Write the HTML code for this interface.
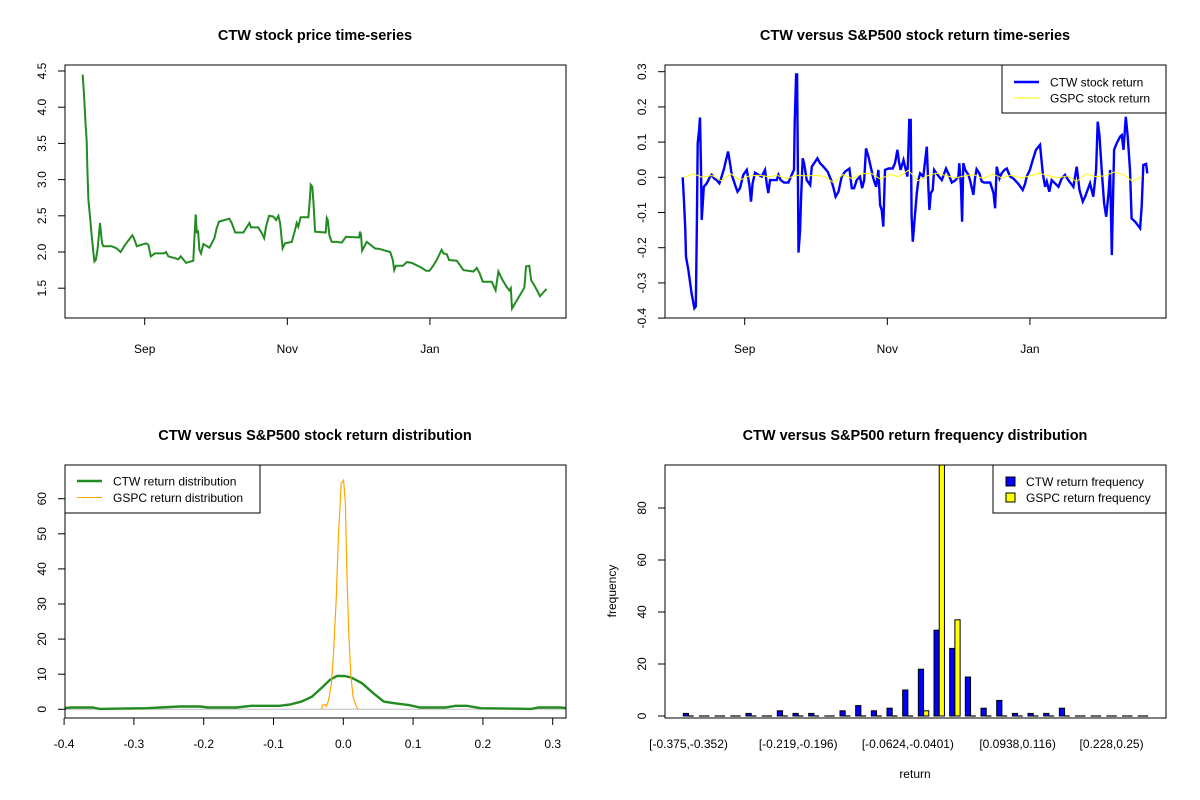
<!DOCTYPE html>
<html><head><meta charset="utf-8"><style>
html,body{margin:0;padding:0;background:#fff;}
svg{display:block;font-family:"Liberation Sans",Arial,sans-serif;}
</style></head><body>
<svg id="chart" width="1200" height="800" viewBox="0 0 1200 800">
<rect width="1200" height="800" fill="#fff"/>
</svg>
<script>
// ---------- Panel 1: price ----------
const priceDays=[-26.5,-25.9,-25.4,-24.8,-24.5,-24.1,-23.4,-22.7,-21.9,-21.5,-20.9,-20.2,-19.5,-19.1,-18.7,-18.2,-17.7,-14.1,-12.0,-10.3,-8.4,-5.3,-4.6,-3.4,0.6,1.6,2.6,4.4,8.3,9.1,10.1,14.4,15.4,17.7,20.8,21.3,21.8,22.3,22.8,23.4,24.1,25.1,27.7,29.8,30.8,31.8,36.2,37.2,38.7,42.2,44.8,45.5,48.6,50.1,51.1,51.9,53.2,55.0,56.2,57.2,57.9,59.0,60.0,62.9,64.3,65.0,65.7,66.7,70.0,70.7,71.0,71.7,72.2,72.9,77.4,77.9,78.3,79.0,80.0,82.1,84.3,86.1,91.7,92.1,92.5,93.0,95.0,98.5,100.7,102.8,105.0,106.1,106.7,107.5,110.4,112.1,114.2,118.5,120.3,121.8,123.2,124.9,127.0,127.8,129.2,130.2,133.5,134.6,136.3,140.6,142.0,143.2,144.6,148.4,150.1,151.3,153.1,154.8,156.0,156.6,157.1,160.6,162.4,163.1,164.5,165.3,167.0,169.1,170.5,171.9];
const priceVals=[4.45,4.15,3.83,3.53,3.13,2.72,2.49,2.24,1.98,1.87,1.89,2.03,2.26,2.40,2.26,2.12,2.08,2.08,2.05,2.00,2.10,2.23,2.19,2.08,2.12,2.10,1.94,1.98,1.98,2.00,1.94,1.90,1.94,1.85,1.88,2.21,2.52,2.26,2.30,2.03,1.98,2.11,2.06,2.19,2.33,2.42,2.46,2.40,2.27,2.27,2.40,2.34,2.34,2.26,2.19,2.35,2.50,2.49,2.44,2.50,2.40,2.05,2.12,2.14,2.30,2.40,2.35,2.48,2.48,2.76,2.93,2.90,2.68,2.28,2.27,2.47,2.44,2.23,2.14,2.14,2.13,2.21,2.20,2.28,2.24,2.02,2.14,2.05,2.04,2.02,2.00,1.89,1.75,1.81,1.81,1.86,1.85,1.78,1.74,1.74,1.80,1.89,2.03,1.98,1.97,1.89,1.88,1.83,1.75,1.73,1.78,1.71,1.59,1.59,1.47,1.73,1.61,1.52,1.47,1.50,1.22,1.41,1.51,1.80,1.81,1.61,1.52,1.39,1.44,1.49];
const priceTicks=[1.5,2.0,2.5,3.0,3.5,4.0,4.5];
const priceTickLabels=["1.5","2.0","2.5","3.0","3.5","4.0","4.5"];
const monthTicks=[0,61,122];
const monthLabels=["Sep","Nov","Jan"];
// ---------- Panel 2: returns ----------
const retDays=[-26.5,-25.9,-25.4,-25.1,-24.1,-22.7,-21.5,-20.9,-20.5,-20.1,-19.5,-19.1,-18.7,-18.4,-17.9,-17.5,-16.2,-14.8,-14.1,-13.1,-12.0,-10.8,-10.1,-8.8,-8.0,-7.1,-6.5,-5.5,-4.1,-3.1,-2.0,-0.6,0.9,2.0,2.7,3.4,4.4,5.9,7.3,8.7,9.4,10.1,10.8,13.7,14.4,15.4,16.8,18.7,20.1,21.1,21.4,22.0,22.4,22.7,23.0,23.7,24.1,24.8,25.4,26.5,28.0,28.7,31.1,32.2,33.7,35.5,37.2,38.2,38.9,40.1,41.5,42.9,44.8,45.8,46.8,47.9,49.3,50.2,51.1,51.9,52.9,53.9,55.0,56.2,57.2,57.9,58.6,59.3,60.0,61.5,63.3,64.3,65.3,66.0,66.7,67.9,68.9,69.6,70.0,70.4,71.0,71.4,71.9,72.6,73.6,74.3,75.0,76.4,77.9,78.6,79.0,79.6,80.4,81.0,82.1,83.1,84.3,86.1,87.1,88.6,90.0,91.4,91.8,92.5,93.0,93.5,94.3,95.7,96.4,97.8,98.5,99.2,100.4,101.4,102.4,105.0,106.4,107.1,107.8,109.0,109.9,111.1,112.1,113.5,114.9,117.1,118.9,119.9,120.6,122.0,123.2,124.6,126.3,127.5,128.5,129.2,130.3,131.3,132.7,134.2,135.6,137.0,138.4,140.6,142.0,143.2,144.6,145.6,147.7,149.1,150.3,151.0,151.7,152.7,153.7,154.6,155.6,156.3,157.0,158.0,159.1,160.6,161.3,162.0,163.0,163.8,164.8,165.5,167.0,169.1,169.8,170.5,171.7,172.2];
const ctwReturns=[0,-0.074,-0.150,-0.226,-0.264,-0.330,-0.372,-0.367,-0.150,0.097,0.134,0.170,0.026,-0.121,-0.074,-0.027,-0.017,0.002,0.007,-0.003,-0.008,-0.017,-0.003,0.025,0.049,0.073,0.049,0.007,-0.022,-0.041,-0.031,0.007,0.021,-0.022,-0.069,-0.017,0.013,0.007,0.002,0.021,-0.017,-0.045,-0.008,-0.008,0.007,-0.008,-0.015,-0.015,0.007,0.021,0.153,0.292,0.292,0.049,-0.214,-0.150,-0.064,0.054,0.040,-0.008,-0.022,0.030,0.054,0.040,0.030,0.016,-0.012,-0.036,-0.055,-0.041,0.002,0.016,0.025,-0.031,-0.031,-0.008,0.002,-0.031,-0.008,0.082,0.059,0.030,-0.003,-0.027,0.021,-0.079,-0.093,-0.140,0.021,0.025,0.025,0.040,0.078,0.044,0.021,0.049,0.021,0.002,0.078,0.163,0.163,-0.111,-0.183,-0.126,-0.045,-0.008,0.011,0.002,0.087,-0.036,-0.093,-0.045,-0.036,0.021,0.011,0.002,-0.008,0.025,0.011,-0.015,-0.009,0.002,0.040,-0.027,-0.126,0.040,0.021,0.007,-0.009,-0.050,-0.003,0.023,0.011,-0.012,-0.015,-0.015,-0.045,-0.088,0.030,-0.003,0.011,0.021,0.025,0.002,-0.003,-0.019,-0.036,-0.019,0.002,0.021,0.049,0.078,0.092,0.011,-0.027,-0.012,-0.041,-0.008,-0.017,-0.027,-0.003,0.007,-0.008,-0.027,0.030,-0.036,-0.069,-0.055,-0.017,-0.055,0.021,0.158,0.121,0.021,-0.074,-0.112,-0.045,0.021,-0.221,0.078,0.097,0.116,0.120,0.078,0.172,0.116,0.021,-0.117,-0.126,-0.145,-0.083,0.035,0.038,0.011];
const gspcDays=[-26,-22,-18,-14,-10,-6,-2,2,6,10,14,18,22,26,30,34,38,42,46,50,54,58,62,66,70,74,78,82,86,90,94,98,102,106,110,114,118,122,126,130,134,138,142,146,150,154,158,162,166,170];
const gspcReturns=[0.0,0.01,0.0,0.005,-0.01,0.01,-0.008,0.004,0.006,0.002,0.005,-0.004,0.006,0.004,0.005,0.003,-0.015,0.008,-0.004,0.01,0.012,-0.005,0.008,0.002,0.02,-0.01,0.004,0.012,0.005,-0.002,0.004,0.008,-0.004,0.01,-0.002,0.006,-0.002,0.004,0.012,0.004,-0.002,0.004,-0.012,0.01,0.002,0.004,0.015,0.008,-0.012,0.004];
const retTicks=[-0.4,-0.3,-0.2,-0.1,0.0,0.1,0.2,0.3];
const retTickLabels=["-0.4","-0.3","-0.2","-0.1","0.0","0.1","0.2","0.3"];
// ---------- Panel 3: density ----------
const ctwDensX=[-0.400,-0.390,-0.359,-0.349,-0.282,-0.235,-0.205,-0.194,-0.153,-0.132,-0.091,-0.076,-0.060,-0.045,-0.029,-0.019,-0.009,0.002,0.012,0.027,0.043,0.058,0.074,0.094,0.110,0.146,0.161,0.177,0.197,0.269,0.280,0.311,0.321];
const ctwDensY=[0.3,0.5,0.5,0.1,0.3,0.8,0.8,0.5,0.5,1.0,1.0,1.4,2.2,3.6,6.5,8.4,9.5,9.5,9.0,7.4,4.6,2.2,1.7,1.2,0.5,0.5,1.0,1.0,0.3,0.1,0.5,0.5,0.3];
const gspcDensX=[-0.031,-0.030,-0.026,-0.024,-0.021,-0.017,-0.014,-0.010,-0.007,-0.003,0.0004,0.003,0.005,0.008,0.011,0.014,0.018,0.021];
const gspcDensY=[0,1.2,1.4,0.9,2.6,7.3,15.8,32.0,49.1,64.3,65.3,58.6,39.6,20.6,9.2,3.5,1.1,0];
const densXTicks=[-0.4,-0.3,-0.2,-0.1,0.0,0.1,0.2,0.3];
const densXLabels=["-0.4","-0.3","-0.2","-0.1","0.0","0.1","0.2","0.3"];
const densYTicks=[0,10,20,30,40,50,60];
// ---------- Panel 4: histogram ----------
const ctwFreq=[1,0,0,0,1,0,2,1,1,0,2,4,2,3,10,18,33,26,15,3,6,1,1,1,3,0,0,0,0,0];
const gspcFreq=[0,0,0,0,0,0,0,0,0,0,0,0,0,0,0,2,100,37,0,0,0,0,0,0,0,0,0,0,0,0];
const binLabels=["[-0.375,-0.352)","","","","","","","[-0.219,-0.196)","","","","","","","[-0.0624,-0.0401)","","","","","","","[0.0938,0.116)","","","","","","[0.228,0.25)","",""];
const freqTicks=[0,20,40,60,80];

const svg=document.getElementById('chart');
const NS='http://www.w3.org/2000/svg';
function mk(tag,attrs,parent){const e=document.createElementNS(NS,tag);for(const k in attrs)e.setAttribute(k,attrs[k]);(parent||svg).appendChild(e);return e;}
function txt(s,x,y,size,opts,parent){const e=mk('text',Object.assign({x:x,y:y,'font-size':size,'text-anchor':'middle',fill:'#000'},opts||{}),parent);e.textContent=s;return e;}
function poly(xs,ys,fx,fy){return xs.map((v,i)=>fx(v).toFixed(1)+','+fy(ys[i]).toFixed(1)).join(' ');}

// ===== Panel 1 =====
const p1=mk('g',{});


const dx=d=>144.7+d*2.338;
const py=v=>71+(4.5-v)*72.4;
let t=txt('CTW stock price time-series',315,40,14.5,{'font-weight':'bold'},p1);

let c=mk('defs',{});mk('clipPath',{id:'c1'},c);mk('rect',{x:65,y:65,width:501,height:253},c.lastChild);
mk('clipPath',{id:'c2'},c);mk('rect',{x:665,y:65,width:501,height:253},c.lastChild);
mk('clipPath',{id:'c3'},c);mk('rect',{x:65,y:465,width:501,height:253},c.lastChild);
mk('clipPath',{id:'c4'},c);mk('rect',{x:665,y:465,width:501,height:253},c.lastChild);
let ln=mk('polyline',{points:poly(priceDays,priceVals,dx,py),fill:'none',stroke:'#228B22','stroke-width':2,'clip-path':'url(#c1)'},p1);

let bx=mk('rect',{x:65,y:65,width:501,height:253,fill:'none',stroke:'#000','stroke-width':1},p1);

priceTicks.forEach((v,i)=>{const y=py(v);mk('line',{x1:58,x2:65,y1:y,y2:y,stroke:'#000'},p1);
 const e=txt(priceTickLabels[i],0,0,12,{transform:`translate(46,${y}) rotate(-90)`},p1);
 });
monthTicks.forEach((d,i)=>{const x=dx(d);mk('line',{x1:x,x2:x,y1:318,y2:325,stroke:'#000'},p1);
 const e=txt(monthLabels[i],x,353,12,{},p1);
 });

// ===== Panel 2 =====
const p2=mk('g',{});


const dx2=d=>744.7+d*2.338;
const ry=v=>177.3-v*352;
t=txt('CTW versus S&P500 stock return time-series',915,40,14.5,{'font-weight':'bold'},p2);

ln=mk('polyline',{points:poly(retDays,ctwReturns,dx2,ry),fill:'none',stroke:'#0000FF','stroke-width':2.4,'clip-path':'url(#c2)'},p2);

ln=mk('polyline',{points:poly(gspcDays,gspcReturns,dx2,ry),fill:'none',stroke:'#FFFF00','stroke-width':1,'clip-path':'url(#c2)'},p2);

bx=mk('rect',{x:665,y:65,width:501,height:253,fill:'none',stroke:'#000'},p2);

retTicks.forEach((v,i)=>{const y=ry(v);mk('line',{x1:658,x2:665,y1:y,y2:y,stroke:'#000'},p2);
 const e=txt(retTickLabels[i],0,0,12,{transform:`translate(646,${y}) rotate(-90)`},p2);
 });
monthTicks.forEach((d,i)=>{const x=dx2(d);mk('line',{x1:x,x2:x,y1:318,y2:325,stroke:'#000'},p2);
 const e=txt(monthLabels[i],x,353,12,{},p2);
 });
let lg=mk('g',{},p2);

mk('rect',{x:1002,y:65,width:164,height:48,fill:'#fff',stroke:'#000'},lg);
mk('line',{x1:1014,x2:1039,y1:82,y2:82,stroke:'#0000FF','stroke-width':2.4},lg);
mk('line',{x1:1014,x2:1039,y1:98,y2:98,stroke:'#FFFF00','stroke-width':1},lg);
t=txt('CTW stock return',1050,86.5,12,{'text-anchor':'start'},lg);

t=txt('GSPC stock return',1050,102.5,12,{'text-anchor':'start'},lg);


// ===== Panel 3 =====
const p3=mk('g',{});


const xx3=v=>343.3+v*698;
const yy3=v=>709.3-v*3.51;
t=txt('CTW versus S&P500 stock return distribution',315,440,14.5,{'font-weight':'bold'},p3);

ln=mk('line',{x1:65,x2:566,y1:yy3(0),y2:yy3(0),stroke:'#BEBEBE'},p3);

ln=mk('polyline',{points:poly(ctwDensX,ctwDensY,xx3,yy3),fill:'none',stroke:'#228B22','stroke-width':2.4,'clip-path':'url(#c3)'},p3);

ln=mk('polyline',{points:poly(gspcDensX,gspcDensY,xx3,yy3),fill:'none',stroke:'#FFA500','stroke-width':1.2,'clip-path':'url(#c3)'},p3);

bx=mk('rect',{x:65,y:465,width:501,height:253,fill:'none',stroke:'#000'},p3);

densYTicks.forEach(v=>{const y=yy3(v);mk('line',{x1:58,x2:65,y1:y,y2:y,stroke:'#000'},p3);
 const e=txt(String(v),0,0,12,{transform:`translate(46,${y}) rotate(-90)`},p3);
 });
densXTicks.forEach((v,i)=>{const x=xx3(v);mk('line',{x1:x,x2:x,y1:718,y2:725,stroke:'#000'},p3);
 const e=txt(densXLabels[i],x,748,12,{},p3);
 });
lg=mk('g',{},p3);

mk('rect',{x:65,y:465,width:195,height:48,fill:'#fff',stroke:'#000'},lg);
mk('line',{x1:77,x2:102,y1:481,y2:481,stroke:'#228B22','stroke-width':2.4},lg);
mk('line',{x1:77,x2:102,y1:497.5,y2:497.5,stroke:'#FFA500','stroke-width':1},lg);
t=txt('CTW return distribution',113,485.5,12,{'text-anchor':'start'},lg);

t=txt('GSPC return distribution',113,502,12,{'text-anchor':'start'},lg);


// ===== Panel 4 =====
const p4=mk('g',{});


const ux=u=>683.3+5.223*(u-1);
const fy=v=>716-v*2.6;
t=txt('CTW versus S&P500 return frequency distribution',915,440,14.5,{'font-weight':'bold'},p4);

const bg=mk('g',{'clip-path':'url(#c4)'},p4);
function bar(v,x,fill){
 if(v>0){const r=mk('rect',{x:x,y:fy(v),width:5.22,height:fy(0)-fy(v),fill:fill,stroke:'#000','stroke-width':1},bg);return r;}
 return mk('line',{x1:x,x2:x+5.22,y1:fy(0),y2:fy(0),stroke:'#000','stroke-width':1.2},bg);
}
ctwFreq.forEach((v,i)=>{const r=bar(v,ux(3*i+1),'#0000FF');
 });
gspcFreq.forEach((v,i)=>{const r=bar(v,ux(3*i+2),'#FFFF00');
 });
bx=mk('rect',{x:665,y:465,width:501,height:253,fill:'none',stroke:'#000'},p4);

freqTicks.forEach(v=>{const y=fy(v);mk('line',{x1:658,x2:665,y1:y,y2:y,stroke:'#000'},p4);
 const e=txt(String(v),0,0,12,{transform:`translate(646,${y}) rotate(-90)`},p4);
 });
binLabels.forEach((s,i)=>{if(!s)return;const e=txt(s,ux(3*i+2),748,12,{},p4);
 });
t=txt('return',915,778,12,{},p4);

t=txt('frequency',0,0,12,{transform:'translate(616,591) rotate(-90)'},p4);

lg=mk('g',{},p4);

mk('rect',{x:993,y:465,width:173,height:48,fill:'#fff',stroke:'#000'},lg);
mk('rect',{x:1006,y:477,width:9,height:9,fill:'#0000FF',stroke:'#000'},lg);
mk('rect',{x:1006,y:493,width:9,height:9,fill:'#FFFF00',stroke:'#000'},lg);
t=txt('CTW return frequency',1026,486,12,{'text-anchor':'start'},lg);

t=txt('GSPC return frequency',1026,502,12,{'text-anchor':'start'},lg);

</script>
</body></html>
